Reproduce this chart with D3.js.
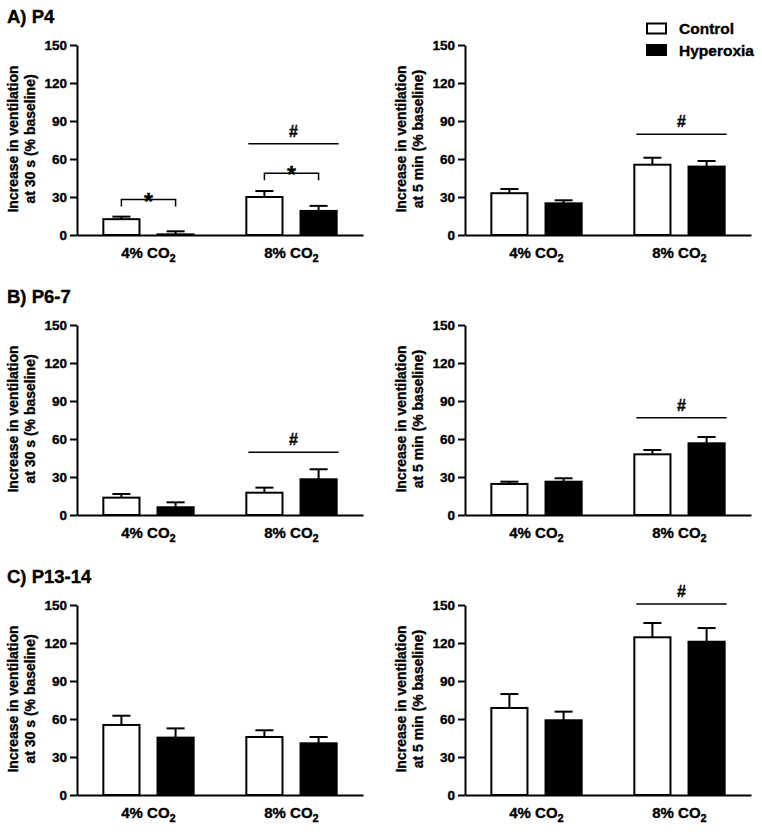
<!DOCTYPE html>
<html>
<head>
<meta charset="utf-8">
<script src="https://cdn.jsdelivr.net/npm/d3@7"></script>
<style>
  html, body { margin: 0; padding: 0; background: #fff; }
  svg { display: block; font-family: "Liberation Sans", Arial, sans-serif; font-weight: bold; }
  svg text { stroke: #000; stroke-width: 0.35px; fill: #000; }
</style>
</head>
<body>
<svg id="chart" width="762" height="832"></svg>
<script>
// ---------------- DATA ----------------
const categories = ["4% CO2", "8% CO2"];
const series = ["Control", "Hyperoxia"];
const yTicks = [0, 30, 60, 90, 120, 150];
const rowTitles = ["A) P4", "B) P6-7", "C) P13-14"];
const yLabel30s = ["Increase in ventilation", "at 30 s (% baseline)"];
const yLabel5min = ["Increase in ventilation", "at 5 min (% baseline)"];

// panels in order: A-30s, A-5min, B-30s, B-5min, C-30s, C-5min ; values per category [4%, 8%]
const controlMean = [[12.5, 30.0], [33.0, 55.5], [13.7, 17.6], [24.5, 47.9], [55.3, 45.8], [68.7, 124.5]];
const controlSem  = [[2.0, 4.7],   [3.3, 5.5],   [2.9, 4.0],   [1.8, 3.4],   [7.3, 5.3],   [11.0, 11.3]];
const hyperMean   = [[0.5, 19.0],  [25.0, 54.0], [6.1, 28.2],  [26.3, 56.6], [45.3, 40.8], [59.0, 121.0]];
const hyperSem    = [[2.4, 4.0],   [2.4, 4.4],   [3.9, 7.9],   [2.7, 5.0],   [7.3, 5.0],   [6.8, 10.8]];

// significance: star brackets between groups within a category, "#" lines over the 8% category
const starBrackets = [
  { panel: 0, category: "4% CO2", level: 28.0, label: "*" },
  { panel: 0, category: "8% CO2", level: 48.7, label: "*" }
];
const hashLines = [
  { panel: 0, category: "8% CO2", level: 72.0, label: "#" },
  { panel: 1, category: "8% CO2", level: 79.5, label: "#" },
  { panel: 2, category: "8% CO2", level: 49.5, label: "#" },
  { panel: 3, category: "8% CO2", level: 76.8, label: "#" },
  { panel: 5, category: "8% CO2", level: 150.8, label: "#" }
];

// ---------------- LAYOUT ----------------
const svg = d3.select("#chart");
const rowOffsets = [0, 280, 560];
const colX = [77, 465];
const plotW = 286, plotTop = 45, plotH = 190;

const y = d3.scaleLinear().domain([0, 150]).range([plotTop + plotH, plotTop]);
const x0 = d3.scaleBand().domain(categories).range([0, plotW]).padding(0);
const x1 = d3.scaleBand().domain(series).range([0, x0.bandwidth()]).paddingInner(0.333).paddingOuter(0.486);

function catLabel(sel, text) {
  sel.text(null);
  sel.append("tspan").text(text.slice(0, -1));
  sel.append("tspan").attr("font-size", "11px").attr("dy", "4").text(text.slice(-1));
}

// row titles
rowTitles.forEach((t, r) => {
  svg.append("text").attr("x", 7).attr("y", rowOffsets[r] + 22.5)
    .attr("font-size", "18.5px").text(t);
});

for (let p = 0; p < 6; p++) {
  const row = Math.floor(p / 2), col = p % 2;
  const g = svg.append("g").attr("transform", `translate(${colX[col]},${rowOffsets[row]})`);

  // y label
  const lbl = col === 0 ? yLabel30s : yLabel5min;
  const yl = g.append("text")
    .attr("transform", `translate(${-59},${plotTop + plotH / 2 - 1}) rotate(-90)`)
    .attr("text-anchor", "middle").attr("font-size", "14px");
  yl.append("tspan").attr("x", 0).attr("dy", 0).text(lbl[0]);
  yl.append("tspan").attr("x", 0).attr("dy", 17).text(lbl[1]);

  // bars
  const barData = [];
  categories.forEach((c, ci) => {
    barData.push({ c, s: "Control", v: controlMean[p][ci], e: controlSem[p][ci] });
    barData.push({ c, s: "Hyperoxia", v: hyperMean[p][ci], e: hyperSem[p][ci] });
  });

  // error bars (upward only)
  const eg = g.append("g").attr("stroke", "#000").attr("stroke-width", 2);
  barData.forEach(d => {
    const cx = x0(d.c) + x1(d.s) + x1.bandwidth() / 2;
    eg.append("line").attr("x1", cx).attr("x2", cx).attr("y1", y(d.v)).attr("y2", y(d.v + d.e));
    eg.append("line").attr("x1", cx - x1.bandwidth() / 4).attr("x2", cx + x1.bandwidth() / 4)
      .attr("y1", y(d.v + d.e)).attr("y2", y(d.v + d.e));
  });

  g.append("g").selectAll("rect").data(barData).join("rect")
    .attr("x", d => x0(d.c) + x1(d.s))
    .attr("width", x1.bandwidth())
    .attr("y", d => y(d.v))
    .attr("height", d => y(0) - y(d.v))
    .attr("fill", d => d.s === "Control" ? "#fff" : "#000")
    .attr("stroke", "#000").attr("stroke-width", 2);

  // y axis
  const ya = g.append("g").call(d3.axisLeft(y).tickValues(yTicks).tickSize(7).tickPadding(3).tickSizeOuter(0));
  ya.attr("font-family", null).attr("font-size", null);
  ya.select(".domain").attr("stroke-width", 2);
  ya.selectAll(".tick line").attr("stroke-width", 2);
  ya.selectAll(".tick text").attr("font-size", "13.5px").attr("font-weight", "bold");

  // x axis
  const xa = g.append("g").attr("transform", `translate(0,${y(0)})`)
    .call(d3.axisBottom(x0).tickSize(0).tickPadding(12));
  xa.attr("font-family", null).attr("font-size", null);
  xa.select(".domain").attr("stroke-width", 2);
  xa.selectAll(".tick text").attr("font-size", "15px").attr("font-weight", "bold")
    .each(function(d) { catLabel(d3.select(this), d); });

  // star brackets
  starBrackets.filter(b => b.panel === p).forEach(b => {
    const xa1 = x0(b.category) + x1("Control") + x1.bandwidth() / 2;
    const xa2 = x0(b.category) + x1("Hyperoxia") + x1.bandwidth() / 2;
    const yb = y(b.level);
    g.append("path").attr("d", `M${xa1},${yb + 7}V${yb}H${xa2}V${yb + 7}`)
      .attr("fill", "none").attr("stroke", "#000").attr("stroke-width", 1.5);
    g.append("text").attr("x", (xa1 + xa2) / 2).attr("y", yb + 10).attr("text-anchor", "middle")
      .attr("font-size", "23px").text(b.label);
  });

  // hash lines
  hashLines.filter(h => h.panel === p).forEach(h => {
    const xa1 = x0(h.category) + x1("Control") + 2;
    const xa2 = x0(h.category) + x1("Hyperoxia") + x1.bandwidth() + 2;
    const yh = y(h.level);
    g.append("line").attr("x1", xa1).attr("x2", xa2).attr("y1", yh).attr("y2", yh)
      .attr("stroke", "#000").attr("stroke-width", 1.5);
    g.append("text").attr("x", (xa1 + xa2) / 2).attr("y", yh - 7).attr("text-anchor", "middle")
      .attr("font-size", "16px").text(h.label);
  });
}

// legend
const lg = svg.append("g");
series.forEach((s, i) => {
  lg.append("rect").attr("x", 647).attr("y", 23.5 + i * 21.5).attr("width", 19).attr("height", 10)
    .attr("fill", s === "Control" ? "#fff" : "#000").attr("stroke", "#000").attr("stroke-width", 2);
  lg.append("text").attr("x", 679).attr("y", 34 + i * 21.5).attr("font-size", "15.5px").text(s);
});
</script>
</body>
</html>
